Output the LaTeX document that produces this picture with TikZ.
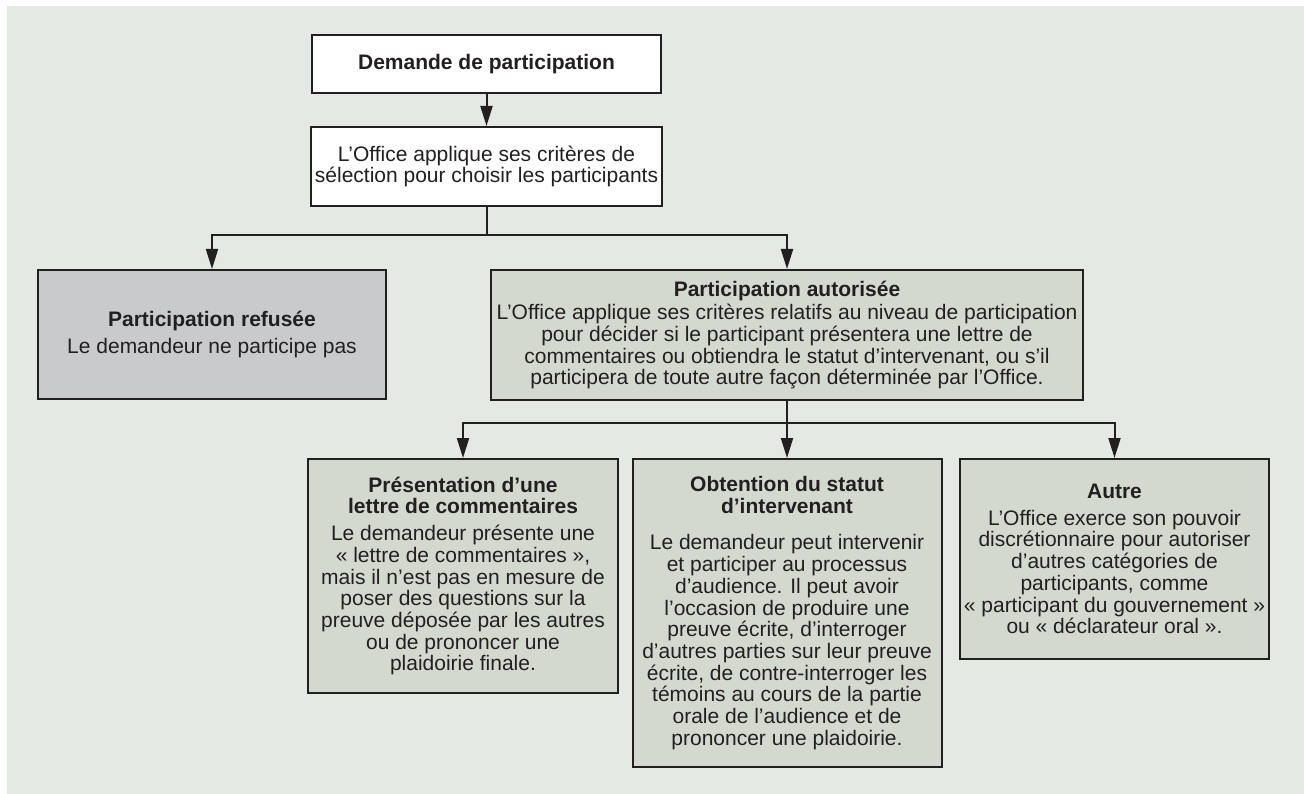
\documentclass[tikz,border=0pt]{standalone}
\usepackage{fontspec}
\setmainfont{Liberation Sans}
\usetikzlibrary{arrows.meta}
\definecolor{panel}{HTML}{E5E9E3}
\definecolor{boxgreen}{HTML}{D4D9CF}
\definecolor{boxgrey}{HTML}{C9CACC}
\definecolor{ink}{HTML}{231F20}

\begin{document}
\begin{tikzpicture}[x=1pt, y=-1pt, every node/.style={font=\fontsize{21}{21.7}\selectfont, text=ink}, >={Triangle[length=20pt, width=12pt]},
	box/.style={draw=ink, line width=2pt, align=center, inner sep=4pt},
	whitebox/.style={box, fill=white},
	greenbox/.style={box, fill=boxgreen},
	greybox/.style={box, fill=boxgrey},
	link/.style={draw=ink, line width=2pt}]
	\useasboundingbox (0,0) rectangle (1304,794);
	\fill[panel] (7,6) rectangle (1304,794);
	\node[whitebox, minimum width=349pt, minimum height=58pt] (dem) at (486.5,64) {\textbf{Demande de participation}};
	\node[whitebox, minimum width=349pt, minimum height=79pt] (crit) at (486.5,166.5) {L’Office applique ses critères de\\sélection pour choisir les participants};
	\node[greybox, minimum width=348pt, minimum height=129pt] (refus) at (212,334.5) {\textbf{Participation refusée}\\[6pt]Le demandeur ne participe pas};
	\node[greenbox, minimum width=592pt, minimum height=130pt] (autor) at (787,335) {\textbf{Participation autorisée}\\[2pt]L’Office applique ses critères relatifs au niveau de participation\\pour décider si le participant présentera une lettre de\\commentaires ou obtiendra le statut d’intervenant, ou s’il\\participera de toute autre façon déterminée par l’Office.};
	\node[greenbox, minimum width=310pt, minimum height=234pt] (lettre) at (463,576) {\textbf{Présentation d’une}\\\textbf{lettre de commentaires}\\[5pt]Le demandeur présente une\\« lettre de commentaires »,\\mais il n’est pas en mesure de\\poser des questions sur la\\preuve déposée par les autres\\ou de prononcer une\\plaidoirie finale.};
	\node[greenbox, minimum width=309pt, minimum height=308pt] (interv) at (787,613) {\textbf{Obtention du statut}\\\textbf{d’intervenant}\\[15pt]Le demandeur peut intervenir\\et participer au processus\\d’audience. Il peut avoir\\l’occasion de produire une\\preuve écrite, d’interroger\\d’autres parties sur leur preuve\\écrite, de contre-interroger les\\témoins au cours de la partie\\orale de l’audience et de\\prononcer une plaidoirie.};
	\node[greenbox, minimum width=309pt, minimum height=200pt] (autre) at (1114.5,559) {\textbf{Autre}\\[5pt]L’Office exerce son pouvoir\\discrétionnaire pour autoriser\\d’autres catégories de\\participants, comme\\« participant du gouvernement »\\ou « déclarateur oral ».};
	\coordinate (fork1) at (486.5,235);
	\coordinate (fork2) at (787,423);
	\draw[link, ->] (dem) -- (crit);
	\draw[link] (crit) -- (fork1);
	\draw[link, ->] (fork1) -| (refus);
	\draw[link, ->] (fork1) -| (autor);
	\draw[link] (autor) -- (fork2);
	\draw[link, ->] (fork2) -| (lettre);
	\draw[link, ->] (fork2) -- (interv);
	\draw[link, ->] (fork2) -| (autre);
\end{tikzpicture}
\end{document}
